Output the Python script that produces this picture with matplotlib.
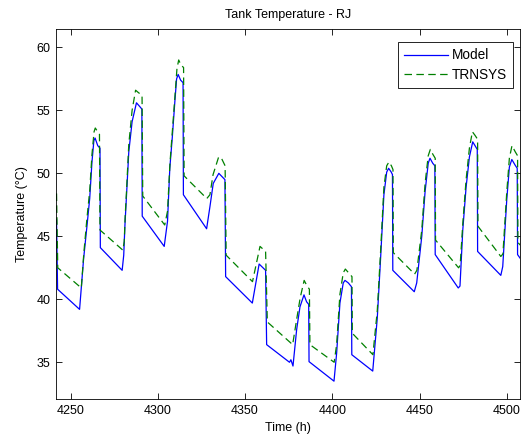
import numpy as np
import matplotlib
matplotlib.use('Agg')
import matplotlib.pyplot as plt

plt.rcParams['font.family'] = ['Liberation Sans', 'DejaVu Sans']

# Model (blue) - time (h), temperature (C)
model_t = [4242.0, 4242.6, 4255.2,
           4257.5, 4259.5, 4261.0, 4262.3, 4263.4, 4264.1, 4265.6, 4266.9, 4267.1, 4279.6,
           4280.5, 4281.2, 4282.0, 4283.4, 4285.3, 4287.8, 4289.7, 4290.9, 4291.1, 4303.7,
           4305.6, 4306.9, 4308.3, 4309.8, 4310.8, 4311.7, 4313.1, 4314.5, 4314.7, 4328.0,
           4329.9, 4331.8, 4335.0, 4338.5, 4338.9, 4354.2,
           4358.1, 4361.8, 4362.4, 4375.5, 4376.3, 4377.5,
           4379.6, 4381.5, 4383.8, 4385.3, 4386.5, 4386.7, 4401.0,
           4402.5, 4404.4, 4406.3, 4407.3, 4409.2, 4411.0, 4411.2, 4423.2,
           4425.8, 4427.7, 4429.6, 4431.2, 4432.3, 4433.8, 4434.5, 4434.7, 4447.0,
           4448.4, 4451.3, 4453.2, 4455.0, 4456.0, 4457.6, 4458.8, 4459.0, 4472.2,
           4473.2, 4474.8, 4476.7, 4478.6, 4480.5, 4481.8, 4483.1, 4483.3, 4496.6,
           4497.7, 4500.0, 4501.5, 4502.9, 4504.8, 4506.0, 4506.2, 4508.5]
model_T = [46.3, 40.8, 39.2,
           43.2, 45.9, 48.0, 50.9, 52.6, 52.8, 52.2, 52.0, 44.1, 42.3,
           43.5, 45.9, 48.0, 51.7, 54.1, 55.6, 55.3, 55.1, 46.6, 44.2,
           46.2, 50.4, 52.8, 55.7, 57.5, 57.85, 57.4, 57.2, 48.3, 45.6,
           47.35, 49.2, 50.0, 49.5, 41.8, 39.7,
           42.8, 42.3, 36.4, 35.0, 35.2, 34.7,
           37.6, 39.4, 40.35, 39.8, 39.6, 35.05, 33.5,
           35.7, 39.7, 41.3, 41.5, 41.3, 41.0, 35.6, 34.3,
           38.5, 43.25, 48.3, 50.1, 50.4, 50.1, 49.9, 42.3, 40.6,
           41.3, 45.0, 48.55, 50.8, 51.2, 50.8, 50.6, 43.55, 40.9,
           41.05, 45.5, 48.9, 51.3, 52.5, 52.2, 51.9, 43.8, 41.9,
           42.6, 47.9, 50.5, 51.1, 50.65, 50.4, 43.55, 43.1]

# TRNSYS (green)
trnsys_t = [4242.0, 4242.7, 4256.2,
            4257.6, 4259.4, 4261.0, 4262.3, 4263.5, 4264.2, 4265.6, 4266.6, 4266.9, 4280.0,
            4280.8, 4281.3, 4282.1, 4283.4, 4285.3, 4287.3, 4289.0, 4291.0, 4291.4, 4304.0,
            4305.6, 4307.0, 4308.4, 4310.0, 4311.0, 4312.0, 4313.3, 4314.8, 4315.1, 4328.1,
            4329.9, 4331.7, 4334.9, 4336.5, 4338.6, 4339.2, 4354.3,
            4358.6, 4361.8, 4362.8, 4377.3,
            4379.6, 4381.6, 4383.9, 4385.4, 4386.9, 4387.2, 4401.1,
            4402.5, 4404.4, 4406.3, 4407.5, 4409.4, 4411.3, 4411.5, 4423.3,
            4425.8, 4427.7, 4429.6, 4431.2, 4432.5, 4433.9, 4434.8, 4435.0, 4447.2,
            4448.5, 4451.3, 4453.2, 4455.0, 4456.2, 4457.7, 4459.0, 4459.2, 4472.4,
            4473.3, 4474.8, 4476.7, 4478.6, 4480.3, 4481.9, 4483.3, 4483.5, 4496.6,
            4497.8, 4500.0, 4501.5, 4503.0, 4504.9, 4506.2, 4506.4, 4508.5]
trnsys_T = [48.4, 42.5, 40.9,
            43.6, 46.4, 48.6, 51.5, 53.3, 53.6, 53.3, 53.1, 45.5, 43.9,
            44.6, 46.5, 48.6, 52.3, 55.0, 56.6, 56.4, 56.2, 48.2, 45.9,
            47.0, 50.8, 53.4, 56.4, 58.3, 59.0, 58.6, 58.4, 49.8, 48.0,
            48.3, 49.9, 51.3, 51.2, 50.6, 43.5, 41.4,
            44.2, 43.8, 38.2, 36.4,
            38.4, 40.1, 41.5, 41.1, 40.8, 36.4, 35.0,
            36.4, 40.4, 42.1, 42.4, 42.1, 41.8, 37.3, 35.6,
            39.1, 43.8, 48.9, 50.6, 50.9, 50.6, 50.3, 43.7, 42.0,
            42.3, 45.5, 49.2, 51.4, 51.9, 51.5, 51.2, 44.7, 42.5,
            42.7, 46.0, 49.5, 52.0, 53.3, 53.0, 52.7, 45.8, 43.4,
            43.6, 48.5, 51.2, 52.2, 51.7, 51.4, 44.5, 44.2]

fig = plt.figure(figsize=(5.25, 4.45), dpi=100)
ax = fig.add_axes([0.1067, 0.1027, 0.8838, 0.8313])

ax.plot(model_t, model_T, color='#0000ff', lw=0.9, label='Model')
ax.plot(trnsys_t, trnsys_T, color='#008000', lw=0.9, linestyle=(0, (6, 3.5)), label='TRNSYS')

ax.set_xlim(4241.7, 4507.6)
ax.set_ylim(32.06, 61.43)
ax.set_xticks([4250, 4300, 4350, 4400, 4450, 4500])
ax.set_yticks([35, 40, 45, 50, 55, 60])
ax.tick_params(direction='in', length=4, width=0.6, top=True, right=True, labelsize=9, pad=4)
for s in ax.spines.values():
    s.set_linewidth(0.6)

ax.set_title('Tank Temperature - RJ', fontsize=9, pad=8)
ax.set_xlabel('Time (h)', fontsize=9, labelpad=4)
ax.set_ylabel('Temperature (°C)', fontsize=9, labelpad=6)

leg = ax.legend(loc='upper right', bbox_to_anchor=(0.985, 0.965), borderaxespad=0,
                fontsize=9.8, fancybox=False, framealpha=1, edgecolor='black',
                handlelength=3.2, handletextpad=0.3, borderpad=0.45, labelspacing=0.4)
leg.get_frame().set_linewidth(0.6)

plt.savefig('out.png', dpi=100)
